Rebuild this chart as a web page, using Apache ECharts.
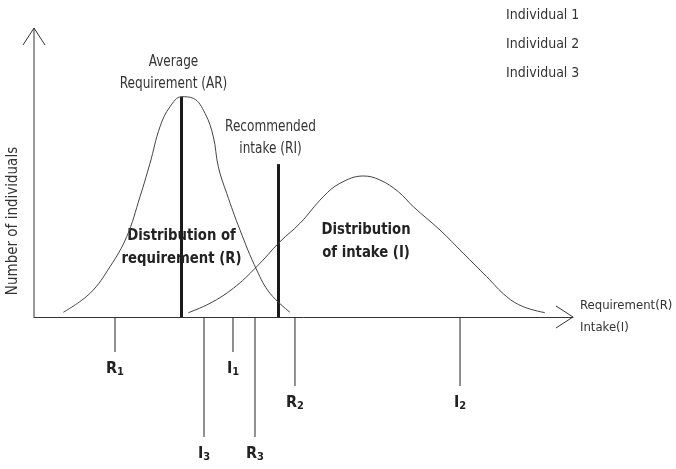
<!DOCTYPE html>
<html><head><meta charset="utf-8">
<script src="https://cdn.jsdelivr.net/npm/echarts@6/dist/echarts.min.js"></script>
<style>html,body{margin:0;padding:0;background:#fff}#c{width:676px;height:469px}</style>
</head><body><div id="c"></div>
<script>
// ---------------- data ----------------
const requirementCurve = [[5.44,1.63],[10.39,8.20],[14.10,17.40],[17.20,27.79],[19.67,41.63],[21.52,53.18],[23.38,65.85],[25.23,72.77],[27.40,76.23],[29.55,75.67],[31.73,70.48],[33.27,62.39],[34.19,52.01],[35.75,42.80],[38.22,30.10],[41.32,16.26],[43.78,8.20],[47.50,1.63]];
const intakeCurve = [[28.63,1.49],[32.65,4.74],[36.98,9.93],[41.32,17.40],[45.64,26.06],[49.35,32.42],[53.67,41.63],[56.77,46.26],[61.10,48.79],[64.19,47.40],[67.59,43.36],[70.37,38.17],[75.32,30.10],[79.65,22.04],[83.99,13.94],[87.70,7.02],[90.78,3.56],[94.81,1.49]];
const guideNames = ['Average\nRequirement (AR)', 'Recommended\nintake (RI)'];
const guideX = [27.37, 45.36];
const guideTop = [76.2, 52.9];
const individualNames = ['Individual 1', 'Individual 2', 'Individual 3'];
const requirementValues = [15.03, 48.42, 41.00]; // R1, R2, R3
const intakeValues = [36.92, 79.04, 31.54];      // I1, I2, I3
const distributionLabels = ['Distribution of\nrequirement (R)', 'Distribution\nof intake (I)'];
const xAxisName = 'Requirement(R)\nIntake(I)';
const yAxisName = 'Number of individuals';

// ---------------- styling / layout ----------------
const FONT = '"Liberation Sans Narrow","DejaVu Sans Condensed","Roboto",sans-serif';
const TXT = '#333';
const tickDepth = [-12.1, -23.9, -41.5];
const guideLabelDy = [0, -2];
const distributionAnchors = [[27.37, 24.05], [61.6, 26.3]];

const chart = echarts.init(document.getElementById('c'), null, {renderer: 'canvas'});

function individualSeries(i) {
  const letters = ['R', 'I'];
  return {
    name: individualNames[i],
    type: 'custom',
    color: '#222',
    clip: false,
    data: [[requirementValues[i]], [intakeValues[i]]],
    renderItem: function (params, api) {
      const x = api.value(0);
      const p0 = api.coord([x, 0]);
      const p1 = api.coord([x, tickDepth[i]]);
      return {
        type: 'group',
        children: [
          {type: 'line', shape: {x1: p0[0], y1: p0[1], x2: p1[0], y2: p1[1]}, style: {stroke: '#222', lineWidth: 1}},
          {type: 'text', x: p1[0], y: p1[1] + 17, style: {
            text: '{m|' + letters[params.dataIndex] + '}{s|' + (i + 1) + '}',
            align: 'center', verticalAlign: 'middle', fill: '#222',
            rich: {
              m: {fontFamily: FONT, fontSize: 16, fontWeight: 'bold', lineHeight: 18, fill: '#222', verticalAlign: 'middle'},
              s: {fontFamily: FONT, fontSize: 11, fontWeight: 'bold', lineHeight: 8, fill: '#222', verticalAlign: 'bottom'}
            }
          }}
        ]
      };
    }
  };
}

const option = {
  animation: false,
  backgroundColor: '#fff',
  grid: {left: 34, right: 103, top: 28, bottom: 7.5, outerBoundsMode: 'none', containLabel: false},
  legend: {
    data: individualNames,
    orient: 'vertical',
    left: 486, top: 3,
    icon: 'none',
    itemWidth: 10, itemHeight: 14, itemGap: 15,
    selectedMode: false,
    textStyle: {fontFamily: FONT, fontSize: 14, color: TXT}
  },
  xAxis: {
    type: 'value', min: 0, max: 100,
    axisLine: {show: true, onZero: true, lineStyle: {color: '#333', width: 1}},
    axisTick: {show: false}, axisLabel: {show: false}, splitLine: {show: false},
    name: xAxisName, nameLocation: 'end', nameGap: 7,
    nameTextStyle: {fontFamily: FONT, fontSize: 13, color: TXT, lineHeight: 22, align: 'left', verticalAlign: 'middle'}
  },
  yAxis: {
    type: 'value', min: -50, max: 100,
    axisLine: {show: false}, axisTick: {show: false}, axisLabel: {show: false}, splitLine: {show: false}
  },
  graphic: [{
    type: 'text', x: 13, y: 221, rotation: Math.PI / 2,
    style: {text: yAxisName, fontFamily: FONT, fontSize: 15, fill: TXT, align: 'center', verticalAlign: 'middle'}
  }],
  series: [
    {
      name: 'axes', type: 'custom', clip: false, silent: true,
      data: [[0, 0]],
      renderItem: function (params, api) {
        const o = api.coord([0, 0]);
        const yt = api.coord([0, 100]);
        const xt = api.coord([100, 0]);
        const st = {stroke: '#333', lineWidth: 1, fill: null};
        return {type: 'group', children: [
          {type: 'line', shape: {x1: o[0], y1: o[1], x2: yt[0], y2: yt[1]}, style: st},
          {type: 'polyline', shape: {points: [[yt[0] - 11, yt[1] + 17], yt, [yt[0] + 11, yt[1] + 17]]}, style: st},
          {type: 'polyline', shape: {points: [[xt[0] - 17, xt[1] - 11], xt, [xt[0] - 17, xt[1] + 11]]}, style: st}
        ]};
      }
    },
    {
      name: 'Requirement', type: 'line', data: requirementCurve, smooth: 0.4,
      showSymbol: false, silent: true, lineStyle: {color: '#444', width: 1}
    },
    {
      name: 'Intake', type: 'line', data: intakeCurve, smooth: 0.4,
      showSymbol: false, silent: true, lineStyle: {color: '#444', width: 1}
    },
    {
      name: 'guides', type: 'custom', clip: false, silent: true,
      data: guideX.map((x, k) => [x, guideTop[k]]),
      renderItem: function (params, api) {
        const b = api.coord([api.value(0), 0]);
        const t = api.coord([api.value(0), api.value(1)]);
        return {type: 'group', children: [
          {type: 'line', shape: {x1: b[0], y1: b[1], x2: t[0], y2: t[1]}, style: {stroke: '#1a1a1a', lineWidth: 3}},
          {type: 'text', x: t[0] - 8, y: t[1] - 2 + guideLabelDy[params.dataIndex], scaleX: 0.84, style: {
            text: guideNames[params.dataIndex], fontFamily: FONT, fontSize: 16, lineHeight: 22,
            fill: TXT, align: 'center', verticalAlign: 'bottom'}}
        ]};
      }
    },
    {
      name: 'distributions', type: 'custom', clip: false, silent: true,
      data: distributionAnchors,
      renderItem: function (params, api) {
        const p = api.coord([api.value(0), api.value(1)]);
        return {type: 'text', x: p[0], y: p[1], scaleX: 0.92, style: {
          text: distributionLabels[params.dataIndex], fontFamily: FONT, fontSize: 16, fontWeight: 'bold',
          lineHeight: 23, fill: '#222', align: 'center', verticalAlign: 'middle'}};
      }
    },
    individualSeries(0), individualSeries(1), individualSeries(2)
  ]
};
chart.setOption(option);
</script>
</body></html>
